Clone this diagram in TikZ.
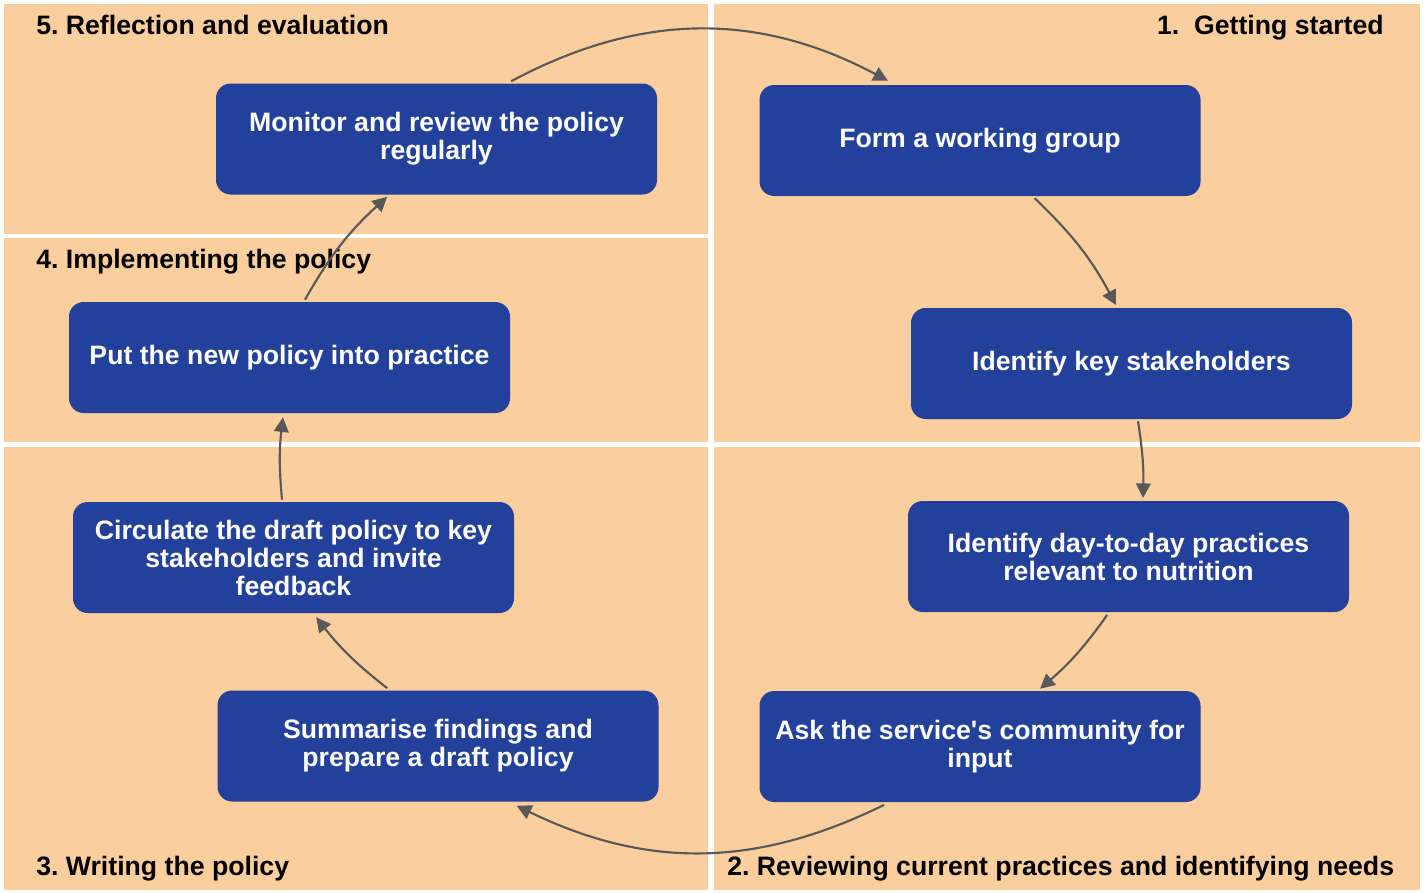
\documentclass[tikz,border=0pt]{standalone}
\usepackage{fontspec}
\setmainfont{Liberation Sans}
\frenchspacing
\usetikzlibrary{arrows.meta}
\definecolor{peach}{HTML}{FBCE9E}
\definecolor{navy}{HTML}{23409A}
\definecolor{arrgray}{HTML}{595959}
\tikzset{
  pol_box/.style = {rectangle, rounded corners=11pt, fill=navy, text=white,
    align=center, inner sep=0pt, minimum width=330.75pt, minimum height=83.25pt,
    font=\bfseries\fontsize{20}{21}\selectfont},% boite d'etape
  pol_hd/.style = {inner sep=0pt, text=black,
    font=\bfseries\fontsize{20}{21}\selectfont},% titre de phase
  pol_arr/.style = {draw=arrgray, line width=1.6pt,
    -{Triangle[length=11pt,width=11pt]}}% fleche du cycle
}

\begin{document}
\begin{tikzpicture}[x=0.75pt, y=-0.75pt]
  \fill[white] (0,0) rectangle (1426,892);
  \fill[peach] (4,4) rectangle (708,234);     % 5
  \fill[peach] (4,238) rectangle (708,442);   % 4
  \fill[peach] (4,447) rectangle (708,890);   % 3
  \fill[peach] (714,4) rectangle (1420,442);  % 1
  \fill[peach] (714,447) rectangle (1420,890);% 2

  \node [pol_hd, anchor=base west] (hd5) at (36,35) {5. Reflection and evaluation};
  \node [pol_hd, anchor=base east] (hd1) at (1384,35) {1.\ \ Getting started};
  \node [pol_hd, anchor=base west] (hd4) at (36,268) {4. Implementing the policy};
  \node [pol_hd, anchor=base west] (hd3) at (36,875) {3. Writing the policy};
  \node [pol_hd, anchor=base west] (hd2) at (727,875) {2. Reviewing current practices and identifying needs};

  \node [pol_box] (monitor) at (436.5,139) {Monitor and review the policy\\regularly};
  \node [pol_box] (form) at (980,140.5) {Form a working group};
  \node [pol_box] (stake) at (1131.5,363.5) {Identify key stakeholders};
  \node [pol_box] (daily) at (1128.5,556.5) {Identify day-to-day practices\\relevant to nutrition};
  \node [pol_box] (ask) at (980,746.5) {Ask the service\textquotesingle s community for\\input};
  \node [pol_box] (summ) at (438,746) {Summarise findings and\\prepare a draft policy};
  \node [pol_box] (circ) at (293.5,557.5) {Circulate the draft policy to key\\stakeholders and invite\\feedback};
  \node [pol_box] (put) at (289.5,357.5) {Put the new policy into practice};

  \draw [pol_arr] ([xshift=56pt,yshift=1.5pt]monitor.north) to[bend left=28] ([xshift=-69pt,yshift=3pt]form.north);
  \draw [pol_arr] ([xshift=41pt,yshift=-1.5pt]form.south) to[bend left=9] ([xshift=-11.6pt,yshift=2pt]stake.north);
  \draw [pol_arr] ([xshift=4.9pt,yshift=-1.5pt]stake.south) to[bend left=5] ([xshift=10.9pt,yshift=2pt]daily.north);
  \draw [pol_arr] ([xshift=-16pt,yshift=-2pt]daily.south) to[bend left=7] ([xshift=45pt,yshift=1.5pt]ask.north);
  \draw [pol_arr] ([xshift=-72pt,yshift=-2pt]ask.south) to[bend left=26] ([xshift=59pt,yshift=-3pt]summ.south);
  \draw [pol_arr] ([xshift=-38pt,yshift=1.5pt]summ.north) to[bend left=7] ([xshift=17pt,yshift=-3pt]circ.south);
  \draw [pol_arr] ([xshift=-8.6pt,yshift=1.5pt]circ.north) to[bend left=6] ([xshift=-4.9pt,yshift=-3pt]put.south);
  \draw [pol_arr] ([xshift=11.6pt,yshift=1.5pt]put.north) to[bend left=9] ([xshift=-37pt,yshift=-1.5pt]monitor.south);
\end{tikzpicture}
\end{document}
